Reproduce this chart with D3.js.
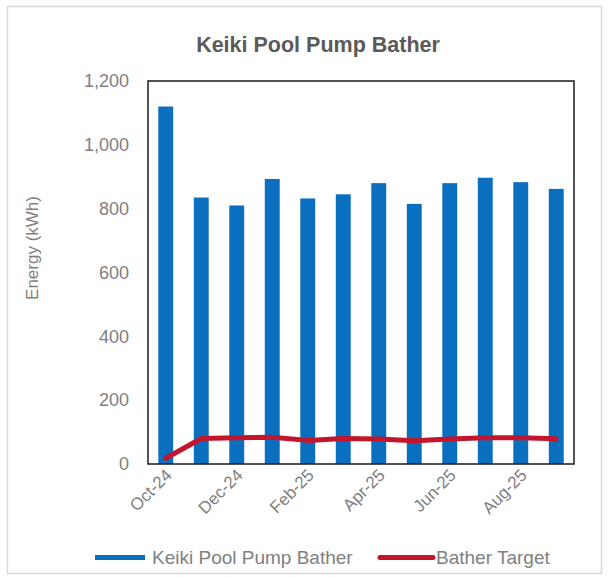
<!DOCTYPE html>
<html>
<head>
<meta charset="utf-8">
<script src="https://cdn.jsdelivr.net/npm/d3@7"></script>
<style>
  html, body { margin: 0; padding: 0; background: #ffffff; }
  svg { display: block; font-family: "Liberation Sans", Arial, sans-serif; }
</style>
</head>
<body>
<svg id="chart" width="608" height="577"></svg>
<script>
// Monthly energy use of the Keiki pool pump against the bather target
const months = ["Oct-24", "Nov-24", "Dec-24", "Jan-25", "Feb-25", "Mar-25",
                "Apr-25", "May-25", "Jun-25", "Jul-25", "Aug-25", "Sep-25"];
const pumpEnergy = [1120, 835, 810, 893, 832, 845, 880, 815, 880, 897, 883, 862];
const batherTarget = [18, 80, 82, 84, 74, 80, 78, 73, 78, 82, 82, 79];
const yTicks = [0, 200, 400, 600, 800, 1000, 1200];
const xLabels = ["Oct-24", "Dec-24", "Feb-25", "Apr-25", "Jun-25", "Aug-25"];

const svg = d3.select("#chart");
const W = 608, H = 577;
const plot = { left: 148, top: 81, right: 574, bottom: 464 };

// outer chart frame
svg.append("rect")
  .attr("x", 7.5).attr("y", 6.5)
  .attr("width", W - 14).attr("height", H - 10)
  .attr("fill", "#ffffff")
  .attr("stroke", "#d9d9d9").attr("stroke-width", 1.5);

const x = d3.scaleBand()
  .domain(months)
  .range([plot.left, plot.right])
  .paddingInner(0.58).paddingOuter(0.29);

const y = d3.scaleLinear()
  .domain([0, 1200])
  .range([plot.bottom, plot.top]);

// title
svg.append("text")
  .attr("x", 318).attr("y", 52)
  .attr("text-anchor", "middle")
  .attr("font-size", 21.5).attr("font-weight", "bold")
  .attr("fill", "#5a5a5a")
  .text("Keiki Pool Pump Bather");

// y axis labels
const yAxis = d3.axisLeft(y)
  .tickValues(yTicks)
  .tickSize(0)
  .tickPadding(19)
  .tickFormat(d3.format(","));
const gy = svg.append("g")
  .attr("transform", `translate(${plot.left},0)`)
  .call(yAxis);
gy.select(".domain").remove();
gy.selectAll("text")
  .attr("font-size", 18)
  .attr("fill", "#808080")
  .attr("font-family", "Liberation Sans, Arial, sans-serif");

// y axis title
svg.append("text")
  .attr("transform", "translate(38,248) rotate(-90)")
  .attr("text-anchor", "middle")
  .attr("font-size", 17)
  .attr("fill", "#808080")
  .text("Energy (kWh)");

// x axis labels, every other month
const xAxis = d3.axisBottom(x)
  .tickValues(xLabels)
  .tickSize(0)
  .tickPadding(6);
const gx = svg.append("g")
  .attr("transform", `translate(0,${plot.bottom})`)
  .call(xAxis);
gx.select(".domain").remove();
gx.selectAll("text")
  .attr("font-size", 17)
  .attr("fill", "#808080")
  .attr("font-family", "Liberation Sans, Arial, sans-serif")
  .attr("text-anchor", "end")
  .attr("dy", "0.35em")
  .attr("transform", "translate(3,8) rotate(-45)")
  .attr("x", 0).attr("y", 0);

// bars
svg.append("g")
  .selectAll("rect")
  .data(pumpEnergy)
  .join("rect")
  .attr("x", (d, i) => x(months[i]))
  .attr("y", d => y(d))
  .attr("width", x.bandwidth())
  .attr("height", d => y(0) - y(d))
  .attr("fill", "#0a6fbf");

// target line
const line = d3.line()
  .x((d, i) => x(months[i]) + x.bandwidth() / 2)
  .y(d => y(d));
svg.append("path")
  .datum(batherTarget)
  .attr("d", line)
  .attr("fill", "none")
  .attr("stroke", "#c3162d")
  .attr("stroke-width", 5)
  .attr("stroke-linecap", "round")
  .attr("stroke-linejoin", "round");

// plot border
svg.append("rect")
  .attr("x", plot.left).attr("y", plot.top)
  .attr("width", plot.right - plot.left)
  .attr("height", plot.bottom - plot.top)
  .attr("fill", "none")
  .attr("stroke", "#1a1a1a").attr("stroke-width", 1.5);

// legend
const legend = svg.append("g").attr("font-size", 19).attr("fill", "#808080");
legend.append("rect")
  .attr("x", 95).attr("y", 555).attr("width", 50).attr("height", 5)
  .attr("fill", "#0a6fbf");
legend.append("text")
  .attr("x", 152).attr("y", 564)
  .text("Keiki Pool Pump Bather");
legend.append("line")
  .attr("x1", 380).attr("x2", 433).attr("y1", 557.5).attr("y2", 557.5)
  .attr("stroke", "#c3162d").attr("stroke-width", 5)
  .attr("stroke-linecap", "round");
legend.append("text")
  .attr("x", 436).attr("y", 564)
  .text("Bather Target");
</script>
</body>
</html>
